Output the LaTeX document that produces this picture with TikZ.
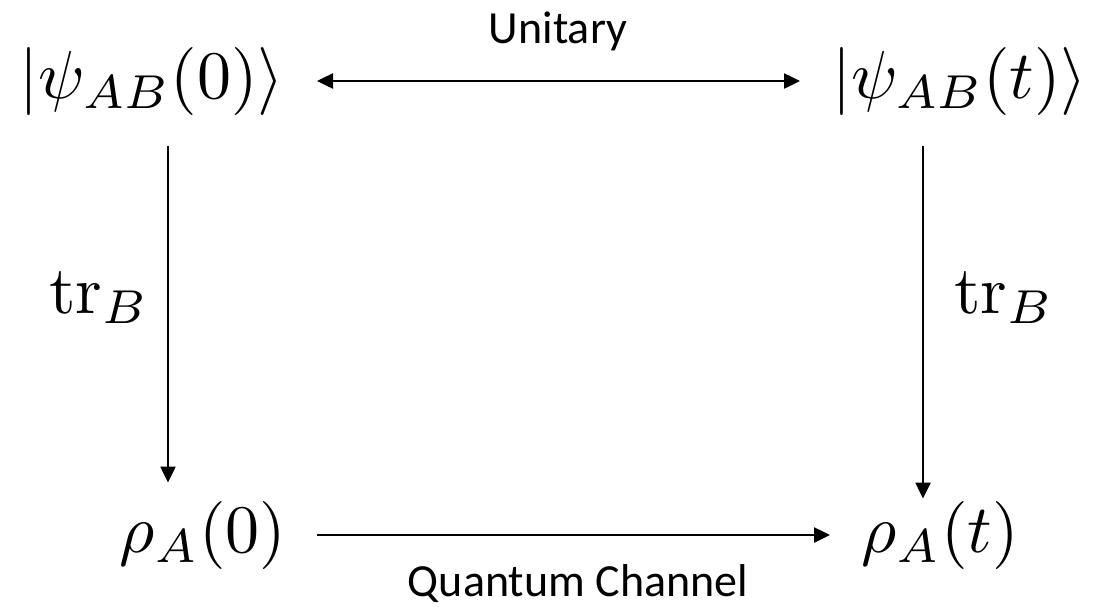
\documentclass[tikz,border=0pt]{standalone}
\usepackage{fontspec}
\newfontfamily\calibrifont{Carlito}
\usetikzlibrary{arrows.meta}
\tikzset{
  mathlbl/.style={inner sep=0pt, anchor=base, scale=6.8},
  textlbl/.style={inner sep=0pt, anchor=base, font=\calibrifont\fontsize{46}{55}\selectfont},
  arr/.style={line width=2.5pt, -{Triangle[length=16pt,width=15pt]}},
  darr/.style={line width=2.5pt, {Triangle[length=16pt,width=15pt]}-{Triangle[length=16pt,width=15pt]}}
}
\begin{document}
\begin{tikzpicture}[x=1pt,y=-1pt]
\useasboundingbox (0,0) rectangle (1094,606);
\node[mathlbl] (k0) at (152,98) {$|\psi_{AB}(0)\rangle$};
\node[mathlbl] (k1) at (960,98) {$|\psi_{AB}(t)\rangle$};
\node[mathlbl] (r0) at (203,552) {$\rho_A(0)$};
\node[mathlbl] (r1) at (940,552) {$\rho_A(t)$};
\node[mathlbl] (t0) at (99,313) {$\mathrm{tr}_B$};
\node[mathlbl] (t1) at (1004,313) {$\mathrm{tr}_B$};
\node[textlbl] (u) at (558,43) {Unitary};
\node[textlbl] (q) at (578,596) {Quantum Channel};
\draw[darr] ([xshift=165pt]k0.center) -- ([xshift=-160pt]k1.center);
\draw[arr] ([xshift=16pt,yshift=-64.5pt]k0.center) -- ([xshift=-35pt,yshift=52.5pt]r0.center);
\draw[arr] ([xshift=-37pt,yshift=-64.5pt]k1.center) -- ([xshift=-17pt,yshift=36.5pt]r1.center);
\draw[arr] ([xshift=114pt]r0.center) -- ([xshift=-110pt]r1.center);
\end{tikzpicture}
\end{document}
